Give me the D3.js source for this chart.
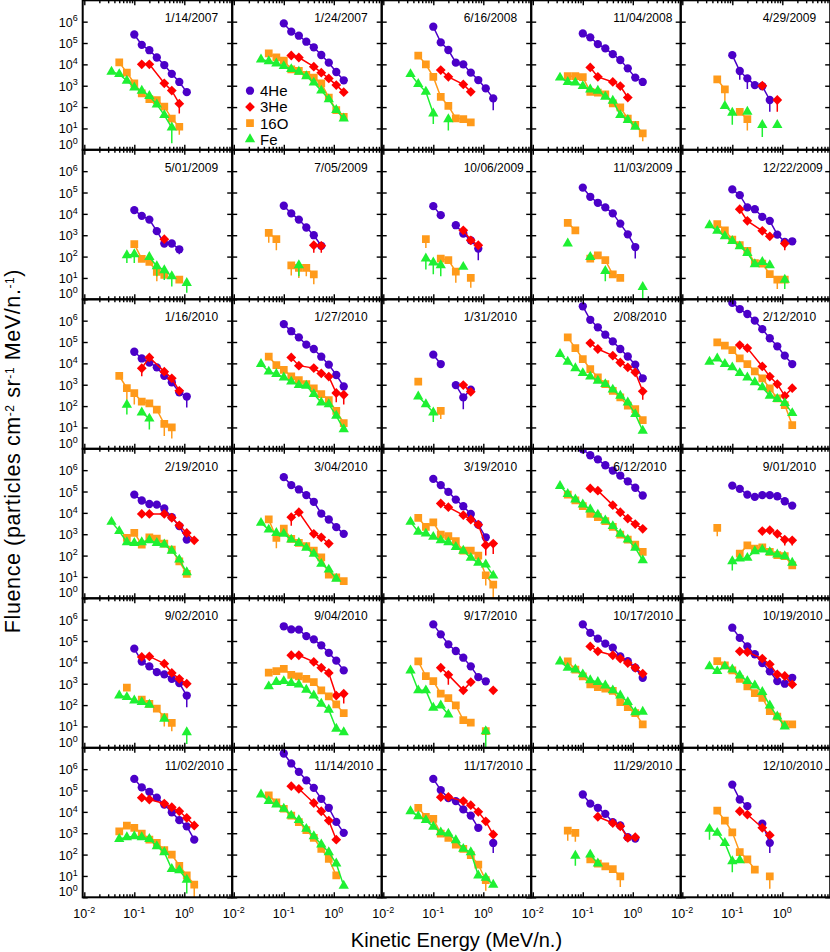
<!DOCTYPE html>
<html>
<head>
<meta charset="utf-8">
<script src="https://d3js.org/d3.v7.min.js"></script>
<style>
  body { margin: 0; background: #fff; }
  text { font-family: "Liberation Sans", Arial, Helvetica, sans-serif; fill: #000; }
</style>
</head>
<body>
<script>

// event dates, one panel each (5 per row)
var dates = ["1/14/2007", "1/24/2007", "6/16/2008", "11/04/2008", "4/29/2009",
             "5/01/2009", "7/05/2009", "10/06/2009", "11/03/2009", "12/22/2009",
             "1/16/2010", "1/27/2010", "1/31/2010", "2/08/2010", "2/12/2010",
             "2/19/2010", "3/04/2010", "3/19/2010", "6/12/2010", "9/01/2010",
             "9/02/2010", "9/04/2010", "9/17/2010", "10/17/2010", "10/19/2010",
             "11/02/2010", "11/14/2010", "11/17/2010", "11/29/2010", "12/10/2010"];

// energy bins (MeV/n.)
var energy = [0.035, 0.050, 0.071, 0.100, 0.141, 0.200, 0.282, 0.398, 0.562, 0.794, 1.12, 1.58];
var he3Energy = [0.141, 0.200, 0.398, 0.562, 0.794, 1.12, 1.58];

var xTicks = [0.01, 0.1, 1];
var yTicks = [1, 10, 100, 1e3, 1e4, 1e5, 1e6];

// [first bin, fluences]; null = no point, [value, lower error] = point with error bar
var he4 = [
  [3, [2.5e5, 8.2e4, 4.6e4, 2.1e4, 9.3e3, 3.6e3, 1.5e3, 500]],
  [3, [8.3e5, 3.4e5, 2.2e5, 1.15e5, 6.3e4, 2.75e4, 1.2e4, 4.4e3, 1.8e3]],
  [3, [5.8e5, 1.07e5, 4.7e4, 1.2e4, 1e4, 4.1e3, 1.85e3, 750, [255, 72]]],
  [3, [2.8e5, 1.85e5, 8.9e4, 5.6e4, 3e4, 1.6e4, 6.5e3, 2.4e3, 1.5e3]],
  [3, [2.7e4, [4.9e3, 1.9e3], [2.2e3, 700], 1.07e3, 950, [215, 60]]],
  [3, [1.5e4, 8.1e3, 5.4e3, 1.55e3, 410, 410, [220, 130]]],
  [3, [2.4e4, 1.05e4, 5.4e3, 2.3e3, 1e3, 320]],
  [3, [2.3e4, 8.7e3, null, 2.95e3, 1.2e3, 580, [237, 68]]],
  [3, [1.7e5, 6.3e4, 3.3e4, 2e4, 1.05e4, 3.5e3, 1.1e3, [280, 81]]],
  [3, [1.4e5, 7.5e4, 2e4, 1.65e4, 7.2e3, 4.7e3, 1.07e3, 490, 520]],
  [3, [3.5e4, 1.7e4, 1.1e4, 6.5e3, 2.6e3, 1.3e3, 440, [280, 87]]],
  [3, [6.9e5, 3.2e5, 1.65e5, 7.5e4, 4.7e4, 2.05e4, 8.7e3, 2.85e3, 830]],
  [3, [2.55e4, 9.3e3, null, 960, [255, 72], 590]],
  [3, [4.7e6, 1.1e6, 4.9e5, 2.2e5, 1.07e5, 4.7e4, 2.1e4, 8.7e3, 2e3]],
  [3, [6.8e6, 3.5e6, 2.05e6, 1e6, 4e5, 1.5e5, 6.3e4, 2.3e4, 9.3e3]],
  [3, [7.2e4, 3.8e4, 2.6e4, 2.45e4, 1.6e4, 6.3e3, 2.4e3, 560]],
  [3, [4.7e5, 2e5, 1.25e5, 6.8e4, 3.3e4, 9.3e3, 4.9e3, 2.15e3, 1.04e3]],
  [3, [3.9e5, 2e5, 9.6e4, 4.2e4, 2.05e4, 8.9e3, 2.8e3, 720]],
  [3, [9.5e6, 5e6, 3.2e6, 1.7e6, 9.6e5, 5.6e5, 3e5, 1.5e5, 6.5e4]],
  [3, [1.9e5, 1.33e5, 7.2e4, 5.6e4, 6.8e4, 6.8e4, 6e4, 3.5e4, 2.2e4]],
  [3, [4.4e4, 1.1e4, 6.5e3, 3.5e3, 2.75e3, 1.7e3, 1.07e3, [280, 80]]],
  [3, [4.9e5, 3.5e5, 3.4e5, 1.7e5, 1.2e5, 6.3e4, 2.8e4, 1.2e4, 4.2e3]],
  [3, [6e5, 2.05e5, 7e4, 3.4e4, 1.65e4, 6.5e3, 2.05e3, 1.3e3]],
  [3, [6e5, 2.4e5, 1.3e5, 7.5e4, 4.9e4, 1.9e4, 1.15e4, 5.6e3, 1.9e3]],
  [3, [4.2e5, 1.4e5, 5.6e4, 2.4e4, 9.3e3, 3.8e3, 1.33e3, 1e3, 1.9e3]],
  [3, [3.5e5, 1.4e5, 8.7e4, 4.6e4, 2.2e4, 9.6e3, 4.1e3, 2.1e3, 500]],
  [3, [5.4e6, 1.85e6, 7.5e5, 3e5, 1.33e5, 4.1e4, 1.55e4, 3.4e3, 1.04e3]],
  [3, [3.5e5, 1.05e5, 4.4e4, 3.2e4, 1.3e4, 6.7e3, 1.8e3, null, [350, 120]]],
  [3, [6.5e4, 2.45e4, 1.55e4, 8.1e3, 3.3e3, 2.3e3, 650, 560]],
  [3, [1.9e5, 3.8e4, 1.85e4, null, 2.8e3, [355, 120]]]
];

// 3He uses its own bins (he3Energy)
var he3 = [
  [0, [1e4, 1e4, 1.3e3, 590, [145, 50]]],
  [0, [2.6e4, 2.1e4, 7.8e3, 4.1e3, 2.2e3, 1.07e3, 500]],
  [0, [5.4e3, 2.6e3, 1.15e3, 520]],
  [0, [7.2e3, 2.6e3, 1.5e3, 960, 280]],
  [2, [1e3, null, [215, 60]]],
  [2, [650]],
  [2, [[340, 150], [320, 150]]],
  [2, [1.7e3, 580, 340]],
  [0, []],
  [0, [1.65e4, 4.7e3, 1.6e3, 890, null, [410, 200]]],
  [0, [[5.9e3, 2.5e3], 1.9e4, 4.1e3, 2e3, 520]],
  [0, [1.9e4, 7.8e3, 6e3, 3.4e3, 2.4e3, [410, 150], [340, 120]]],
  [2, [960, 465]],
  [0, [8.9e4, 4.7e4, 2.3e4, 1.1e4, 6.5e3, 3.8e3, [490, 200]]],
  [0, [7.2e4, 5.2e4, 7.2e3, 2.4e3, 1.07e3, 300, 690]],
  [0, [8.9e3, 8.9e3, 8.9e3, 5.9e3, 2.6e3, 1.15e3, 520]],
  [0, [[6.3e3, 2.5e3], 1.07e4, 1.04e3, 720, 365]],
  [0, [2.75e4, 1.85e4, 7.8e3, 4.9e3, 2.8e3, [305, 100], [365, 120]]],
  [0, [1.4e5, 1.1e5, 2.3e4, 1.07e4, 5.4e3, 3e3, 1.8e3]],
  [2, [1.4e3, 1.55e3, 1.04e3, [560, 300], [520, 300]]],
  [0, [1.8e4, 1.9e4, 8.7e3, 3.2e3, 1.7e3, 1e3]],
  [0, [2.15e4, 2.15e4, 1.05e4, 5.6e3, 3.2e3, 280, [340, 120]]],
  [0, [5.6e3, [2.6e3, 900], 490, 1.2e3, null, null, 490]],
  [0, [5.6e4, 3.3e4, 2.15e4, 1.5e4, 9.3e3, 5.6e3, 2.95e3]],
  [0, [3.3e4, 3.05e4, 1.5e4, 8.1e3, 2.75e3, 2.3e3, 930]],
  [0, [4.6e4, 3.8e4, 2.45e4, 1.65e4, 1.07e4, 5.2e3, 2.3e3]],
  [0, [1.6e5, 1.2e5, 2.6e4, 1.07e4, 3.9e3, 500]],
  [0, [4.9e4, 5e4, 3.2e4, 2.05e4, 1e4, 3.6e3, 870]],
  [1, [5.9e3, 3e3, 2.1e3, 600, 650]],
  [0, [1.07e4, 7.5e3, 1.8e3, 810]]
];

var o16 = [
  [1, [1.24e4, 4.1e3, 1.3e3, 440, 237, 214, 104, 29, [12, 5]]],
  [1, [3.3e4, 2.1e4, 1.5e4, 5.9e3, 4.9e3, 3.2e3, 2.4e3, 1.3e3, 275, 73, 35]],
  [1, [2.6e4, 1e4, 2.6e3, 300, 113, 30, 27.5, 19]],
  [1, [2.8e3, 2.8e3, 2.5e3, 520, 470, 390, 148, 96, 29, 14.5, [5.8, 2.5]]],
  [1, [2e3, [670, 200], null, 60, [27, 8]]],
  [3, [380, 78, 56, [19, 7], 14, null, 8.3]],
  [1, [[1.3e3, 450], [650, 200], null, [39, 13], [30, 10], [30, 12], [14.5, 5]]],
  [2, [[650, 250], null, 81, 68, [20, 6], null, [10, 3.5]]],
  [1, [3.8e3, 1.7e3, null, 81, 115, 68, 14.5, 10]],
  [1, [3.3e3, 1.7e3, 630, 340, 185, 50, 47, 15, [8.3, 3], 8.3]],
  [1, [2.6e3, [690, 200], [400, 120], 160, 133, 68, [14.5, 4], [10, 3]]],
  [1, [2.05e4, 8.3e3, 5e3, 2.45e3, 1.65e3, 1.07e3, 670, 365, 190, 60, 16]],
  [1, [1.4e3, null, null, [60, 25]]],
  [1, [1.65e5, 5.2e4, 1.6e4, 5.4e3, 2.2e3, 1.07e3, 520, 255, 105, 73, 22]],
  [1, [9.6e4, 6.8e4, 4.2e4, 1.7e4, 9.3e3, 4.2e3, 2e3, 680, 230, 112, 13]],
  [2, [680, 1.15e3, 330, 720, 630, 365, 190, 54, 14]],
  [1, [4.9e3, [680, 220], 1.85e3, 600, 390, 275, 170, 83, 13, 9.6, 6.3]],
  [1, [5.9e3, 2.2e3, 3.6e3, 960, 810, 470, 170, 170, 100, [12, 4], [4.4, 1]]],
  [1, [7.2e4, 3.8e4, 2.05e4, 8.9e3, 6.3e3, 4.1e3, 2.2e3, 960, 560, 330, 148]],
  [1, [[2e3, 800], null, null, 123, 300, 214, 245, 148, 104, 94, 35]],
  [2, [650, null, 178, 115, 68, [27, 10], [14.5, 6]]],
  [1, [3.3e3, 3.9e3, 5e3, 2.6e3, 2.2e3, 1.7e3, 1.2e3, 490, 255, 107, 42]],
  [1, [1.1e4, 2.3e3, 1.33e3, 340, 214, 96, 20, 15, null, 6]],
  [1, [1.1e4, 4.6e3, 2.2e3, 930, 700, 590, 460, 138, 81, 42, 12.5]],
  [1, [1.15e4, 7.2e3, 4.2e3, 1.7e3, 750, 365, 220, 52, 29, 12.5, 12.5]],
  [1, [1.23e3, 2.3e3, 1.8e3, 960, 500, 350, 160, 100, 30, 10.7, [3.9, 1]]],
  [1, [5.9e4, 2.8e4, 1.4e4, 6.7e3, 3.3e3, 1.4e3, 600, 185, 63, 10.5]],
  [1, [1.55e4, 5.9e3, 4.7e3, 960, 600, 295, 185, 94, 34, [6.3, 2]]],
  [1, [[1.33e3, 450], [1.04e3, 400], null, 59, 38, 28, 21, [9.6, 3]]],
  [1, [1.15e4, 3.9e3, 1.1e3, 130, 59, 20, null, [9.6, 2.5]]]
];

var fe = [
  [0, [4.5e3, 3.5e3, 1.7e3, 830, 580, 330, 133, 42, [11, 2]]],
  [0, [1.7e4, 1.4e4, 1.1e4, 8.3e3, 6e3, 4.5e3, 2.8e3, 1.4e3, 590, 230, 73, 29]],
  [0, [3.5e3, 1.2e3, 520, [50, 16], null, [27, 8]]],
  [0, [2.4e3, 1.5e3, 1.4e3, 960, 670, 580, 305, 200, 42, 25, 12]],
  [2, [112, [54, 15], null, 60, null, [14.5, 4], null, 14.5]],
  [2, [[115, 50], [130, 50], null, 96, [35, 12], [23, 8], [12, 4], null, [5.8, 2]]],
  [5, [[39, 12]]],
  [2, [[81, 25], [53, 15], [39, 12], null, null, 33]],
  [1, [410, null, null, 96, null, [21, 7], null, null, null, null, [3.8, 1]]],
  [0, [2.95e3, 1.6e3, 890, 540, 300, 148, 44, 56, 39, null, [8.3, 3]]],
  [2, [[115, 40], null, 50, [26, 8]]],
  [0, [9.3e3, 4.1e3, 3.2e3, 2.2e3, 1.4e3, 960, 890, 365, 148, 123, 35, 8.3]],
  [1, [280, 123, [50, 18]]],
  [0, [2.75e4, 1.2e4, 5.9e3, 3.5e3, 2.4e3, 1.55e3, 1.07e3, 590, 305, 148, 42, 7]],
  [0, [1.2e4, 1.7e4, 9.3e3, 6.5e3, 3.5e3, 2.2e3, 1.3e3, 750, 305, 214, 138, 47]],
  [0, [3.8e3, 1.4e3, 420, 390, 420, 520, 390, 330, 170, 65, 16.5]],
  [0, [3.4e3, 1.65e3, 1.15e3, 1.04e3, 560, 390, 230, 120, 41, 22, 8.3]],
  [0, [3.8e3, 1.3e3, 1.07e3, 750, 520, 420, 255, 170, 78, 46, 38, 11.5]],
  [0, [1.8e5, 7.7e4, 4.2e4, 2.45e4, 1.45e4, 8.3e3, 4.4e3, 2.4e3, 1.04e3, 560, 230, 60]],
  [3, [[54, 20], 72, 78, 160, 190, 144, 112, 94, 46]],
  [1, [280, 237, 165, 138, 104, null, 23, null, null, [5.4, 1.5]]],
  [1, [750, 1.2e3, 1.33e3, 1.07e3, 930, 520, 280, 115, 60, 7.8, 5.4]],
  [0, [4.2e3, 490, 490, 75, 96, 36, null, null, null, null, [6, 1]]],
  [0, [1.1e4, 5.6e3, 4.6e3, 2.75e3, 1.45e3, 1.2e3, 830, 490, 280, 138, 46, 49]],
  [0, [6.5e3, 3.9e3, 6.5e3, 4.6e3, 2.45e3, 1.33e3, 830, 410, 96, 29, 10]],
  [1, [540, 650, 720, 650, 540, 245, 128, 21, 18.6, [6.7, 1.5]]],
  [0, [6.5e4, 3.2e4, 2.2e4, 1.4e4, 6.7e3, 4.1e3, 1.6e3, 720, 295, 130, 38, 3.5]],
  [0, [1.07e4, 6.3e3, 4.1e3, 2e3, 1.1e3, 960, 470, 185, 130, 10.5, 8.1, 3.9]],
  [2, [[89, 30], null, 100, 38]],
  [0, [[1.6e3, 500], 1.04e3, 350, [49, 15], 54]]
];

var w = 830, h = 952;
var left = 82.7, top0 = 0.3, pw = 149.5, ph = 149.5;

var svg = d3.select("body").append("svg")
    .attr("width", w)
    .attr("height", h);

var x = d3.scaleLog().domain([Math.pow(10, -2.032), Math.pow(10, 0.958)]).range([0, pw]);
var y = d3.scaleLog().domain([1, 1e7]).range([ph, 0]);

var minor = [];
[0.01, 0.1, 1].forEach(function(d) {
  for (var m = 2; m <= 9; m++) minor.push(d * m);
});

var series = [
  {name: "4He", rows: he4, grid: energy, color: "#4b00c8", shape: "circle"},
  {name: "3He", rows: he3, grid: he3Energy, color: "#ff0000", shape: "diamond"},
  {name: "16O", rows: o16, grid: energy, color: "#ff9a1a", shape: "square"},
  {name: "Fe", rows: fe, grid: energy, color: "#1ef032", shape: "triangle"}
];

var shapes = {
  circle: d3.symbol(d3.symbolCircle, 54)(),
  diamond: d3.symbol(d3.symbolSquare, 48)(),
  square: d3.symbol(d3.symbolSquare, 60)(),
  triangle: d3.symbol(d3.symbolTriangle, 46)()
};

function points(s, p) {
  var row = s.rows[p], k0 = row[0];
  return row[1].map(function(v, i) {
    if (v == null) return null;
    var arr = Array.isArray(v);
    return {e: s.grid[k0 + i], v: arr ? v[0] : v, lo: arr ? v[1] : null};
  });
}

var line = d3.line()
    .defined(function(d) { return d; })
    .x(function(d) { return x(d.e); })
    .y(function(d) { return y(d.v); });

// "10" with a superscript exponent
function powText(t, exp, fs) {
  t.append("tspan").text("10");
  t.append("tspan").attr("font-size", fs * 0.72).attr("dy", -fs * 0.42).text(exp);
}

function tickAxis(g, axis, tr) {
  var a = g.append("g").attr("transform", tr).call(axis);
  a.select(".domain").remove();
  a.selectAll("text").remove();
  a.selectAll("line").attr("stroke", "#000").attr("stroke-width", 1.4);
}

dates.forEach(function(date, p) {
  var col = p % 5, row = Math.floor(p / 5);
  var g = svg.append("g")
      .attr("transform", "translate(" + (left + col * pw) + "," + (top0 + row * ph) + ")");

  g.append("clipPath").attr("id", "clip" + p)
    .append("rect").attr("width", pw).attr("height", ph);

  var plot = g.append("g").attr("clip-path", "url(#clip" + p + ")");

  series.forEach(function(s) {
    var pts = points(s, p);
    var good = pts.filter(function(d) { return d; });
    var sg = plot.append("g");

    sg.selectAll("line")
      .data(good.filter(function(d) { return d.lo; }))
      .enter().append("line")
        .attr("x1", function(d) { return x(d.e); })
        .attr("x2", function(d) { return x(d.e); })
        .attr("y1", function(d) { return y(d.v); })
        .attr("y2", function(d) { return y(d.lo); })
        .attr("stroke", s.color)
        .attr("stroke-width", 1.5);

    if (good.length > 1) {
      sg.append("path")
        .attr("d", line(pts))
        .attr("fill", "none")
        .attr("stroke", s.color)
        .attr("stroke-width", 1.5);
    }

    sg.selectAll("path.pt")
      .data(good)
      .enter().append("path")
        .attr("class", "pt")
        .attr("transform", function(d) {
          return "translate(" + x(d.e) + "," + y(d.v) + ")" + (s.shape == "diamond" ? " rotate(45)" : "");
        })
        .attr("d", shapes[s.shape])
        .attr("fill", s.color);
  });

  // ticks on all four sides, pointing in
  tickAxis(g, d3.axisBottom(x).tickValues(xTicks).tickSize(-5), "translate(0," + ph + ")");
  tickAxis(g, d3.axisBottom(x).tickValues(minor).tickSize(-3), "translate(0," + ph + ")");
  tickAxis(g, d3.axisTop(x).tickValues(xTicks).tickSize(-5), "translate(0,0)");
  tickAxis(g, d3.axisTop(x).tickValues(minor).tickSize(-3), "translate(0,0)");
  tickAxis(g, d3.axisLeft(y).tickValues(yTicks).tickSize(-5), "translate(0,0)");
  tickAxis(g, d3.axisRight(y).tickValues(yTicks).tickSize(-5), "translate(" + pw + ",0)");

  g.append("rect")
    .attr("width", pw)
    .attr("height", ph)
    .attr("fill", "none")
    .attr("stroke", "#000")
    .attr("stroke-width", 2);

  g.append("text")
    .attr("x", 82)
    .attr("y", 22)
    .attr("font-size", 12)
    .text(date);

  if (col == 0) {
    yTicks.forEach(function(v, i) {
      var t = g.append("text")
          .attr("x", -5)
          .attr("y", y(v) + (v == 1 ? -1 : 5))
          .attr("text-anchor", "end")
          .attr("font-size", 12.5);
      powText(t, String(i), 12.5);
    });
  }

  if (row == 5) {
    xTicks.forEach(function(v) {
      var t = g.append("text")
          .attr("x", x(v))
          .attr("y", ph + 20.5)
          .attr("text-anchor", "middle")
          .attr("font-size", 12.5);
      powText(t, String(Math.round(Math.log10(v))), 12.5);
    });
  }

  if (p == 1) {
    var lg = g.append("g").attr("transform", "translate(17.8,90.4)");
    series.forEach(function(s, i) {
      lg.append("path")
        .attr("transform", "translate(0," + (i * 16.2) + ")" + (s.shape == "diamond" ? " rotate(45)" : ""))
        .attr("d", shapes[s.shape])
        .attr("fill", s.color);
      lg.append("text")
        .attr("x", 10)
        .attr("y", i * 16.2 + 5.5)
        .attr("font-size", 15)
        .text(s.name);
    });
  }
});

// axis titles
svg.append("text")
    .attr("x", left + 2.5 * pw)
    .attr("y", 947)
    .attr("text-anchor", "middle")
    .attr("font-size", 20)
    .text("Kinetic Energy (MeV/n.)");

var yt = svg.append("text")
    .attr("transform", "translate(20,451) rotate(-90)")
    .attr("text-anchor", "middle")
    .attr("font-size", 21.5)
    .attr("letter-spacing", 0.6);
yt.append("tspan").text("Fluence (particles  cm");
yt.append("tspan").attr("font-size", 12).attr("dy", -6.5).text("-2");
yt.append("tspan").attr("dy", 6.5).text(" sr");
yt.append("tspan").attr("font-size", 12).attr("dy", -6.5).text("-1");
yt.append("tspan").attr("dy", 6.5).text(" MeV/n.");
yt.append("tspan").attr("font-size", 12).attr("dy", -6.5).text("-1");
yt.append("tspan").attr("dy", 6.5).text(")");

</script>
</body>
</html>
